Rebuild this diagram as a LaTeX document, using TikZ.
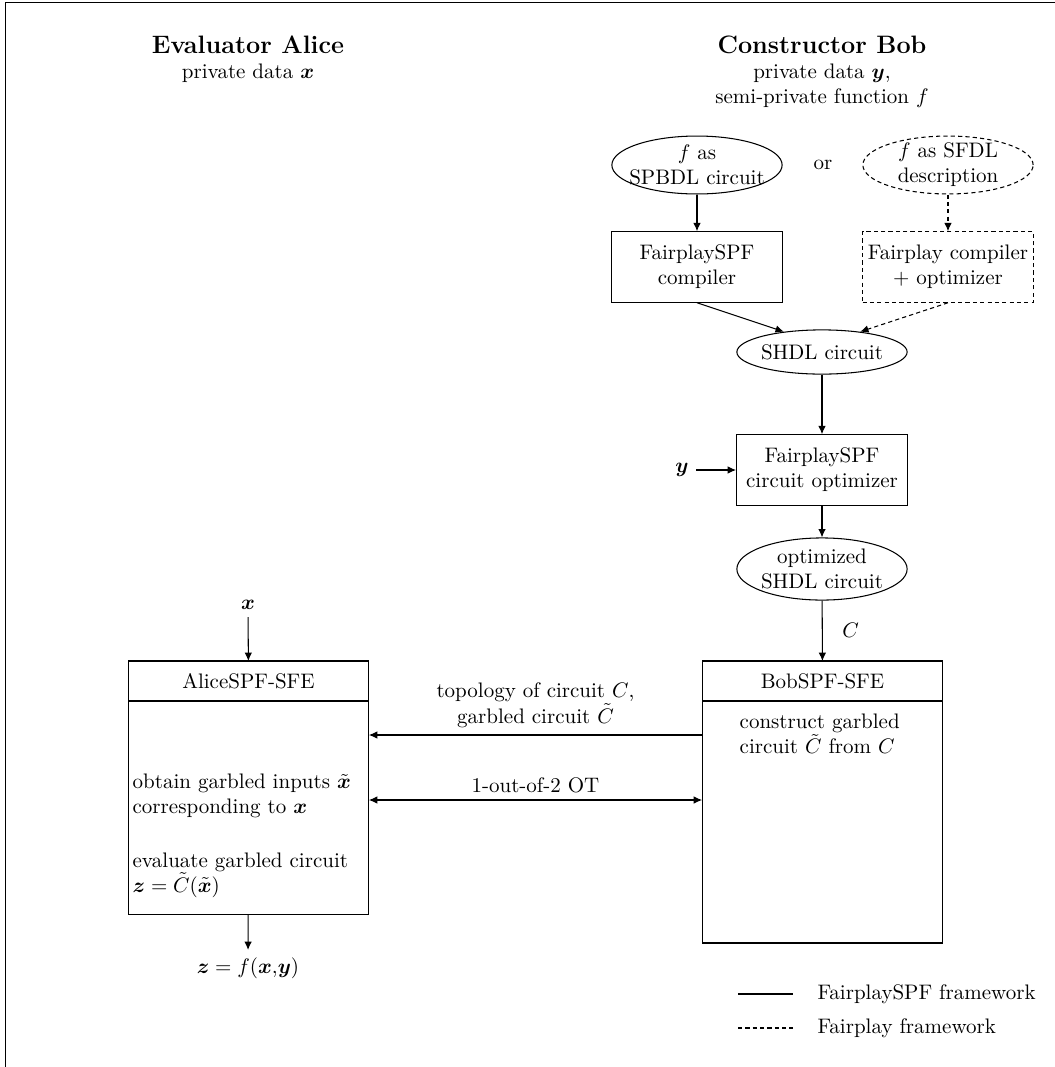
\documentclass[tikz,border=0pt]{standalone}
\usepackage{bm}
\usetikzlibrary{arrows.meta,shapes.geometric}

\begin{document}
\begin{tikzpicture}[
	x                = 0.01674cm,
	y                = -0.01674cm,
	line width       = 0.5pt,
	flow/.style      = {-{Latex[length=4pt,width=3.6pt]}},
	fairplay/.style  = {dash pattern=on 2pt off 1.5pt},
	stage/.style     = {draw, rectangle, align=center, minimum width=2.86cm, minimum height=1.18cm, inner sep=2pt},
	data/.style      = {draw, ellipse, align=center, minimum width=2.85cm, minimum height=0.97cm, inner xsep=-12pt, inner ysep=-6pt},
	head/.style      = {draw, rectangle, minimum width=4.03cm, minimum height=0.67cm, inner sep=0pt, outer sep=0pt},
	body/.style      = {draw, rectangle, minimum width=4.03cm, inner sep=0pt, outer sep=0pt},
	step text/.style = {anchor=west, align=left, inner xsep=1.5pt}]
	\useasboundingbox (0,0) rectangle (1055,1067);
	\draw [line width=0.7pt] (5.5,1100) -- (5.5,2.5) -- (1100,2.5);

	\node (alice)     at (248,45) {\large\bfseries Evaluator Alice};
	\node (alicedata) at (248,73) {private data $\bm{x}$};
	\node (bob)       at (822,45) {\large\bfseries Constructor Bob};
	\node [align=center] (bobdata) at (822,86) {private data $\bm{y}$,\\ semi-private function $f$};

	\node [data]           (spbdl)   at (697,165) {$f$ as\\ SPBDL circuit};
	\node                  (or)      at (823,165) {or};
	\node [data, fairplay] (sfdl)    at (948,165) {$f$ as SFDL\\ description};
	\node [stage]          (spfcomp) at (697,267) {FairplaySPF\\ compiler};
	\node [stage, fairplay] (fpcomp) at (948,267) {Fairplay compiler\\ + optimizer};
	\node [data, minimum height=0.74cm] (shdl) at (822,352) {SHDL circuit};
	\node [stage]          (optim)   at (822,470) {FairplaySPF\\ circuit optimizer};
	\node                  (iny)     at (682,470) {$\bm{y}$};
	\node [data, minimum height=1.04cm] (optshdl) at (822,569) {optimized\\ SHDL circuit};

	\node [head] (bobhead) at (822.5,681) {BobSPF-SFE};
	\node [body, minimum height=4.05cm, anchor=north] (bobbody) at (bobhead.south) {};
	\node [step text] (bobtext) at (736,734) {construct garbled\\ circuit $\tilde{C}$ from $C$};

	\node (inx) at (248,605) {$\bm{x}$};
	\node [head] (alicehead) at (248.5,681) {AliceSPF-SFE};
	\node [body, minimum height=3.58cm, anchor=north] (alicebody) at (alicehead.south) {};
	\node [step text] (obtain)   at (129,796) {obtain garbled inputs $\tilde{\bm{x}}$\\ corresponding to $\bm{x}$};
	\node [step text] (evaluate) at (129,875) {evaluate garbled circuit\\ $\bm{z} = \tilde{C}(\tilde{\bm{x}})$};
	\node (outz) at (248,968) {$\bm{z} = f(\bm{x},\!\bm{y})$};

	\coordinate (topo) at (0,735);
	\coordinate (ot)   at (0,800);

	\draw [flow] (spbdl) -- (spfcomp);
	\draw [flow, fairplay] (sfdl) -- (fpcomp);
	\draw [flow] (spfcomp.south) -- (shdl.152);
	\draw [flow, fairplay] (fpcomp.south) -- (shdl.28);
	\draw [flow] (shdl) -- (optim);
	\draw [flow] (iny) -- (optim);
	\draw [flow] (optim) -- (optshdl);
	\draw [flow] (optshdl) -- node [right=6pt] {$C$} (bobhead);
	\draw [flow] (inx) -- (alicehead);
	\draw [flow] (alicebody) -- (outz);
	\draw [flow] (bobbody.west |- topo) -- node [above, align=center] {topology of circuit $C$,\\ garbled circuit $\tilde{C}$} (alicebody.east |- topo);
	\draw [{Latex[length=4pt,width=3.6pt]}-{Latex[length=4pt,width=3.6pt]}] (alicebody.east |- ot) -- node [above] {1-out-of-2 OT} (bobbody.west |- ot);

	\draw (738,994) -- (793,994);
	\node [anchor=west] (lgspf) at (810,994) {FairplaySPF framework};
	\draw [fairplay] (738,1028) -- (793,1028);
	\node [anchor=west] (lgfp) at (810,1028) {Fairplay framework};
\end{tikzpicture}
\end{document}
